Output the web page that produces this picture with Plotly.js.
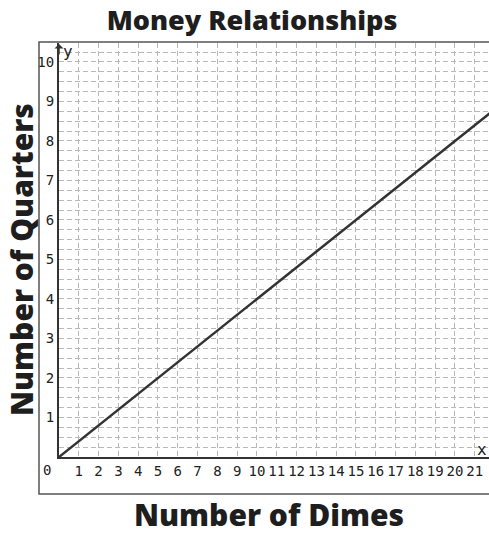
<!DOCTYPE html>
<html><head><meta charset="utf-8">
<script src="https://cdn.plot.ly/plotly-3.0.1.min.js"></script>
<style>html,body{margin:0;padding:0;background:#fff}</style>
</head><body><div id="chart" style="width:489px;height:535px"></div>
<script>
// Data
const dimes = [0, 5, 10, 15, 20, 25];
const quarters = [0, 2, 4, 6, 8, 10];
const xTickVals = [1,2,3,4,5,6,7,8,9,10,11,12,13,14,15,16,17,18,19,20,21];
const xTickText = ['1','2','3','4','5','6','7','8','9','10','11','12','13','14','15','16','17','18','19','20','21'];
const yTickVals = [1,2,3,4,5,6,7,8,9,10];
const yTickText = ['1','2','3','4','5','6','7','8','9','10'];
const chartTitle = 'Money Relationships';
const xTitle = 'Number of Dimes';
const yTitle = 'Number of Quarters';

const boldFont = '"Open Sans", "Noto Sans", sans-serif';
const monoFont = '"DejaVu Sans Mono", monospace';
const gridColor = '#b8b8b8';
const xMax = 21.72, yMax = 10.48;

const trace = {
  x: dimes, y: quarters, type: 'scatter', mode: 'lines',
  line: {color: '#333333', width: 2.5}, hoverinfo: 'skip', cliponaxis: true
};

const layout = {
  width: 489, height: 535,
  margin: {l: 59, r: 0, t: 43, b: 78},
  paper_bgcolor: '#ffffff', plot_bgcolor: '#ffffff',
  showlegend: false,
  title: {text: chartTitle, x: 252/489, xanchor: 'center', xref: 'container',
          y: 1 - 21/535, yanchor: 'middle', yref: 'container',
          font: {family: boldFont, size: 27, weight: 800, color: '#1e1e1e'}},
  xaxis: {
    range: [0, xMax], tickmode: 'array', tickvals: xTickVals, ticktext: xTickText,
    showgrid: true, gridcolor: gridColor, gridwidth: 1, griddash: '5px,3px',
    zeroline: false, showline: true, linecolor: '#333', linewidth: 2,
    ticks: '', tickfont: {family: monoFont, size: 14, color: '#222'},
    fixedrange: true
  },
  yaxis: {
    range: [0, yMax], tickmode: 'array', tickvals: yTickVals, ticktext: yTickText,
    showgrid: true, gridcolor: gridColor, gridwidth: 1, griddash: '5px,3px',
    minor: {tickmode: 'linear', tick0: 0, dtick: 0.25, showgrid: true,
            gridcolor: gridColor, gridwidth: 1, griddash: '5px,3px', ticks: ''},
    zeroline: false, showline: true, linecolor: '#333', linewidth: 2,
    ticks: '', tickfont: {family: monoFont, size: 14, color: '#222'},
    fixedrange: true
  },
  shapes: [
    {type: 'rect', xref: 'paper', yref: 'paper',
     x0: (39-59)/430, x1: 1.05, y0: (457-494)/414, y1: (457-42)/414,
     line: {color: '#555', width: 1.5}, fillcolor: 'rgba(0,0,0,0)', layer: 'above'}
  ],
  annotations: [
    {text: yTitle, xref: 'paper', yref: 'paper', x: (21-59)/430, y: (457-260)/414,
     textangle: -90, showarrow: false, xanchor: 'center', yanchor: 'middle',
     font: {family: boldFont, size: 30, weight: 800, color: '#1e1e1e'}},
    {text: xTitle, xref: 'paper', yref: 'paper', x: (269-59)/430, y: (457-514)/414,
     showarrow: false, xanchor: 'center', yanchor: 'middle',
     font: {family: boldFont, size: 30, weight: 800, color: '#1e1e1e'}},
    {text: '0', xref: 'paper', yref: 'paper', x: (47-59)/430, y: (457-470)/414,
     showarrow: false, xanchor: 'center', yanchor: 'middle',
     font: {family: monoFont, size: 14, color: '#222'}},
    {text: 'y', xref: 'paper', yref: 'paper', x: (68-59)/430, y: (457-52)/414,
     showarrow: false, xanchor: 'center', yanchor: 'middle',
     font: {family: monoFont, size: 16, color: '#222'}},
    {text: 'x', xref: 'paper', yref: 'paper', x: (482-59)/430, y: (457-449)/414,
     showarrow: false, xanchor: 'center', yanchor: 'middle',
     font: {family: monoFont, size: 16, color: '#222'}},
    {text: '', xref: 'paper', yref: 'paper', x: 0, y: (457-44)/414,
     ax: 0, ay: 12, showarrow: true, arrowhead: 1, arrowsize: 1, arrowwidth: 1.5,
     arrowcolor: '#333'}
  ]
};

Plotly.newPlot('chart', [trace], layout, {staticPlot: true, displayModeBar: false});
</script>
</body></html>
